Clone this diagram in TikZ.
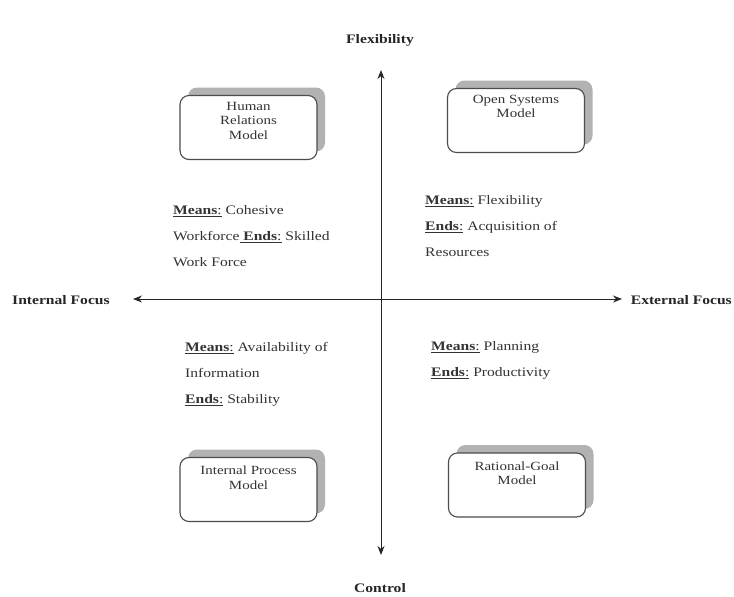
\documentclass[tikz,border=0pt]{standalone}
\usepackage{fontspec}
\setmainfont{Liberation Serif}[FakeStretch=1.2]
\usetikzlibrary{arrows.meta}
\begin{document}
\begin{tikzpicture}[x=1pt,y=-1pt,
  ax/.style={draw=black!85, line width=1pt, -{Stealth[length=9pt,width=7pt]}},
  modelbox/.style={draw=black!70, line width=1.1pt, rounded corners=9pt, fill=white, minimum width=137pt, minimum height=64pt, inner sep=0pt},
  shadowbox/.style={fill=black!30, rounded corners=9pt, minimum width=137pt, minimum height=64pt, inner sep=0pt},
  boxtext/.style={align=center, font=\fontsize{12.5}{14.5}\selectfont, anchor=north, inner sep=0pt, text=black!80},
  axlabel/.style={font=\fontsize{13}{16}\selectfont\bfseries, inner sep=0pt, text=black!85},
  body/.style={align=left, font=\fontsize{13}{26}\selectfont, anchor=north west, inner sep=0pt, text=black!80}]
\useasboundingbox (0,0) rectangle (734,597);
\clip (0,0) rectangle (734,597);
\fill[white] (0,0) rectangle (734,597);

% axes
\coordinate (c) at (381,299);
\coordinate (top) at (381,70);
\coordinate (bot) at (381,555);
\coordinate (lft) at (133,299);
\coordinate (rgt) at (622,299);
\draw[ax] (c) -- (top);
\draw[ax] (c) -- (bot);
\draw[ax] (c) -- (lft);
\draw[ax] (c) -- (rgt);

\node[axlabel] (flex) at (380,40) {Flexibility};
\node[axlabel] (ctrl) at (380,588) {Control};
\node[axlabel, anchor=west] (intf) at (12,300) {Internal Focus};
\node[axlabel, anchor=east] (extf) at (732,300) {External Focus};

% boxes
\node[shadowbox] (hrs) at (256.5,119.5) {};
\node[modelbox] (hr) at (248.5,127.5) {};
\node[boxtext] (hrt) at ([yshift=-7pt]hr.north) {Human\\Relations\\Model};

\node[shadowbox] (oss) at (524,112.5) {};
\node[modelbox] (os) at (516,120.5) {};
\node[boxtext] (ost) at ([yshift=-7pt]os.north) {Open Systems\\Model};

\node[shadowbox] (ips) at (256.5,481.5) {};
\node[modelbox] (ip) at (248.5,489.5) {};
\node[boxtext] (ipt) at ([yshift=-9pt]ip.north) {Internal Process\\Model};

\node[shadowbox] (rgs) at (525,477) {};
\node[modelbox] (rg) at (517,485) {};
\node[boxtext] (rgt) at ([yshift=-9pt]rg.north) {Rational-Goal\\Model};

% means / ends
\node[body] (tl) at (173,205) {\underline{\textbf{Means}:} Cohesive\\Workforce\underline{ \textbf{Ends}:} Skilled\\Work Force};
\node[body] (tr) at (425,195) {\underline{\textbf{Means}:} Flexibility\\\underline{\textbf{Ends}:} Acquisition of\\Resources};
\node[body] (bl) at (185,342) {\underline{\textbf{Means}:} Availability of\\Information\\\underline{\textbf{Ends}:} Stability};
\node[body] (br) at (431,341) {\underline{\textbf{Means}:} Planning\\\underline{\textbf{Ends}:} Productivity};
\end{tikzpicture}
\end{document}
